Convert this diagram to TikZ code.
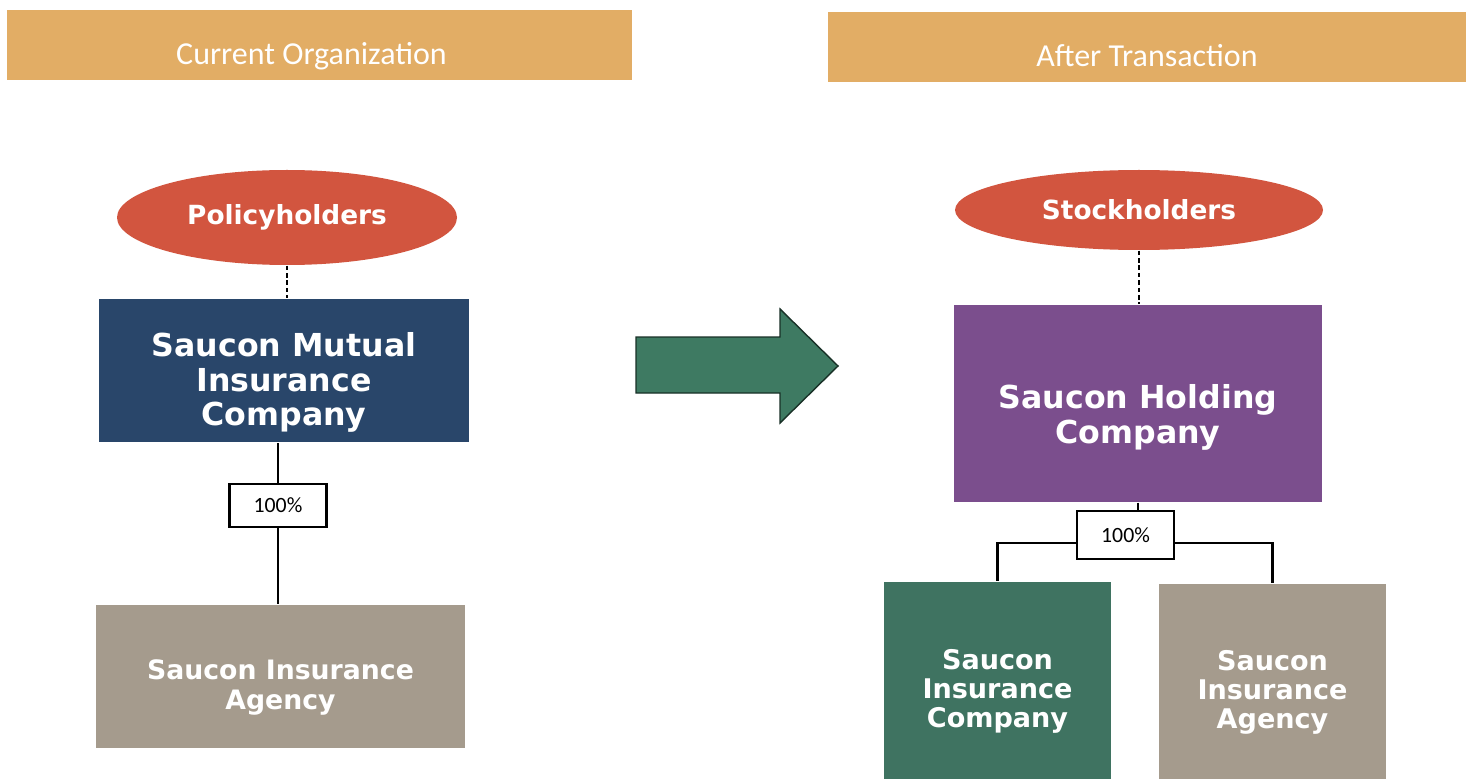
\documentclass[tikz,border=0pt]{standalone}
\usepackage{fontspec}
\setmainfont{DejaVu Sans}
\newfontfamily\calibri{Carlito}
\usepackage{tikz}
\usetikzlibrary{shapes.geometric}

\definecolor{headtan}{HTML}{E2AD65}
\definecolor{ownred}{HTML}{D2553F}
\definecolor{mutualblue}{HTML}{29466A}
\definecolor{agencygrey}{HTML}{A59B8D}
\definecolor{companygreen}{HTML}{3F7361}
\definecolor{holdpurple}{HTML}{7B4E8D}
\definecolor{arrowgreen}{HTML}{3E7A62}

\tikzset{
  header/.style={fill=headtan, minimum height=7mm, text=white, inner sep=0pt,
    text height=11.3pt, text depth=0pt,
    font=\calibri\fontsize{9.1}{10}\selectfont},
  owners/.style={ellipse, fill=ownred, text=white, inner sep=0pt,
    font=\bfseries\fontsize{7.5}{9}\selectfont},
  entity/.style={inner sep=0pt},
  boxtext/.style={text=white, align=center, inner sep=0pt},
  share/.style={draw, semithick, fill=white, inner sep=0pt,
    minimum width=9.7mm, minimum height=4.3mm,
    font=\calibri\fontsize{6.2}{7}\selectfont},
  link/.style={semithick},
  owns/.style={thick, dash pattern=on 1.3pt off 0.8pt}
}

\begin{document}
\begin{tikzpicture}

\useasboundingbox [fill=white] (0,0) rectangle (14.73,7.79);

% headings
\node[header, minimum width=62.5mm] (curhead) at (3.195,7.34) {Current Organization\hspace*{1.6mm}};
\node[header, minimum width=63.8mm] (afthead) at (11.47,7.32) {After Transaction};

% current organization
\node[owners, minimum width=34mm, minimum height=9.5mm] (policy) at (2.87,5.615) {\raisebox{-0.6pt}{Policyholders}};
\node[entity, fill=mutualblue, minimum width=37mm, minimum height=14.3mm] (mutual) at (2.84,4.085) {};
\node[boxtext, font=\bfseries\fontsize{9}{9.9}\selectfont] (mutualname) at ([yshift=-1.2mm]mutual.center) {Saucon Mutual\\Insurance\\Company};
\node[share] (pctleft) at (2.78,2.735) {100\%};
\node[entity, fill=agencygrey, minimum width=36.9mm, minimum height=14.3mm] (agencyleft) at (2.805,1.025) {};
\node[boxtext, font=\bfseries\fontsize{7.6}{8.6}\selectfont] (agencyleftname) at ([yshift=-1.1mm]agencyleft.center) {Saucon Insurance\\Agency};

\draw [owns] (policy.south) -- (policy.south |- mutual.north);
\draw [link] (pctleft.north) -- (pctleft.north |- mutual.south);
\draw [link] (pctleft.south) -- (pctleft.south |- agencyleft.north);

% transaction arrow
\draw [fill=arrowgreen, draw=black!60!arrowgreen] (6.36,3.86) -- (7.80,3.86) -- (7.80,3.56)
  -- (8.38,4.13) -- (7.80,4.70) -- (7.80,4.42) -- (6.36,4.42) -- cycle;

% after transaction
\node[owners, minimum width=36.8mm, minimum height=8mm] (stock) at (11.39,5.69) {Stockholders};
\node[entity, fill=holdpurple, minimum width=36.8mm, minimum height=19.7mm] (holding) at (11.38,3.755) {};
\node[boxtext, font=\bfseries\fontsize{9}{10}\selectfont] (holdingname) at ([yshift=-1.35mm]holding.center) {Saucon Holding\\Company};
\node[share, minimum height=4.8mm] (pctright) at (11.255,2.44) {100\%};
\node[entity, fill=companygreen, minimum width=22.7mm, minimum height=19.7mm] (company) at (9.975,0.985) {};
\node[boxtext, font=\bfseries\fontsize{7.7}{8.3}\selectfont] (companyname) at ([yshift=-1.1mm]company.center) {Saucon\\Insurance\\Company};
\node[entity, fill=agencygrey, minimum width=22.7mm, minimum height=19.5mm] (agencyright) at (12.725,0.975) {};
\node[boxtext, font=\bfseries\fontsize{7.7}{8.3}\selectfont] (agencyrightname) at ([yshift=-1.1mm]agencyright.center) {Saucon\\Insurance\\Agency};

\draw [owns] (stock.south) -- (stock.south |- holding.north);
\draw [link] (holding.south) -- (holding.south |- pctright.north);
\draw [link] ([yshift=-0.8mm]pctright.west) -| (company.north);
\draw [link] ([yshift=-0.8mm]pctright.east) -| (agencyright.north);

\end{tikzpicture}
\end{document}
